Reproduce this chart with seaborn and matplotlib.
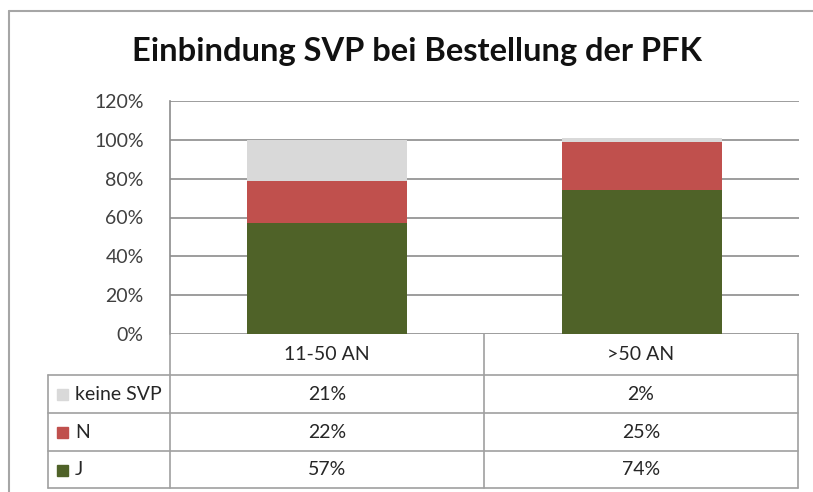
import matplotlib
matplotlib.use("Agg")
import matplotlib.pyplot as plt
from matplotlib.lines import Line2D
from matplotlib.patches import Rectangle
import seaborn as sns
import pandas as pd
import numpy as np

# ---- data ----
categories = ["11-50 AN", ">50 AN"]
series_names = ["keine SVP", "N", "J"]  # table order (top to bottom)
values_keine = [21, 2]
values_n = [22, 25]
values_j = [57, 74]
series_colors = {"keine SVP": "#D9D9D9", "N": "#C0504D", "J": "#4F6228"}
yticks = [0, 20, 40, 60, 80, 100, 120]
title = "Einbindung SVP bei Bestellung der PFK"

sns.set_theme(style="white")
plt.rcParams["font.family"] = ["Lato", "DejaVu Sans"]

W, H = 813, 492
fig = plt.figure(figsize=(W / 100, H / 100), dpi=100)
fig.patch.set_facecolor("white")

def fx(x):
    return x / W

def fy(y):
    return 1 - y / H

# plot area in pixel coordinates
L, R, T, B = 170, 799, 101, 334
ax = fig.add_axes([fx(L), fy(B), fx(R) - fx(L), fy(T) - fy(B)])

df = pd.DataFrame({"cat": categories, "J": values_j, "N": values_n, "K": values_keine})
df["top_n"] = df["J"] + df["N"]
df["top_k"] = df["J"] + df["N"] + df["K"]

for col, name in [("top_k", "keine SVP"), ("top_n", "N"), ("J", "J")]:
    sns.barplot(data=df, x="cat", y=col, color=series_colors[name], saturation=1,
                width=0.51, ax=ax, errorbar=None, linewidth=0)

ax.set_ylim(0, 120)
ax.set_xlim(-0.5, 1.5)
ax.set_yticks(yticks)
ax.set_yticklabels([f"{v}%" for v in yticks], fontsize=14, color="#404040")
ax.set_xticks([])
ax.set_xlabel("")
ax.set_ylabel("")
ax.tick_params(axis="y", length=0, pad=19)
for v in yticks:
    ax.axhline(v, color="#8C8C8C", lw=1.2, zorder=0)
for s in ["top", "right", "bottom"]:
    ax.spines[s].set_visible(False)
ax.spines["left"].set_color("#8C8C8C")
ax.spines["left"].set_linewidth(1.2)
ax.set_facecolor("none")

# title
fig.text(fx(417), fy(52), title, ha="center", va="center", fontsize=23.5,
         fontweight="bold", color="#111111")

# outer chart border
line_kw = dict(color="#A6A6A6", lw=1.5, transform=fig.transFigure)
fig.add_artist(Line2D([fx(9), fx(813)], [fy(11), fy(11)], **line_kw))
fig.add_artist(Line2D([fx(9), fx(9)], [fy(11), fy(492)], **line_kw))

# data table
tab_kw = dict(color="#A0A0A0", lw=1.2, transform=fig.transFigure)
col_x = [170, 484, 798]
row_y = [334, 375, 413, 451, 488]
left_x = 48
for x in col_x:
    fig.add_artist(Line2D([fx(x), fx(x)], [fy(row_y[0]), fy(row_y[-1])], **tab_kw))
fig.add_artist(Line2D([fx(left_x), fx(left_x)], [fy(row_y[1]), fy(row_y[-1])], **tab_kw))
for y in row_y[1:]:
    fig.add_artist(Line2D([fx(left_x), fx(col_x[-1])], [fy(y), fy(y)], **tab_kw))

text_kw = dict(fontsize=14, color="#262626", va="center")
for i, c in enumerate(categories):
    xc = (col_x[i] + col_x[i + 1]) / 2
    fig.text(fx(xc), fy((row_y[0] + row_y[1]) / 2), c, ha="center", **text_kw)

series_vals = {"keine SVP": values_keine, "N": values_n, "J": values_j}
for r, name in enumerate(series_names):
    yc = (row_y[r + 1] + row_y[r + 2]) / 2
    fig.add_artist(Rectangle((fx(57), fy(yc + 6)), fx(11), fy(0) - fy(11),
                             transform=fig.transFigure, color=series_colors[name]))
    fig.text(fx(75), fy(yc), name, ha="left", **text_kw)
    for i in range(len(categories)):
        xc = (col_x[i] + col_x[i + 1]) / 2
        fig.text(fx(xc), fy(yc), f"{series_vals[name][i]}%", ha="center", **text_kw)

fig.savefig("out.png", dpi=100)
